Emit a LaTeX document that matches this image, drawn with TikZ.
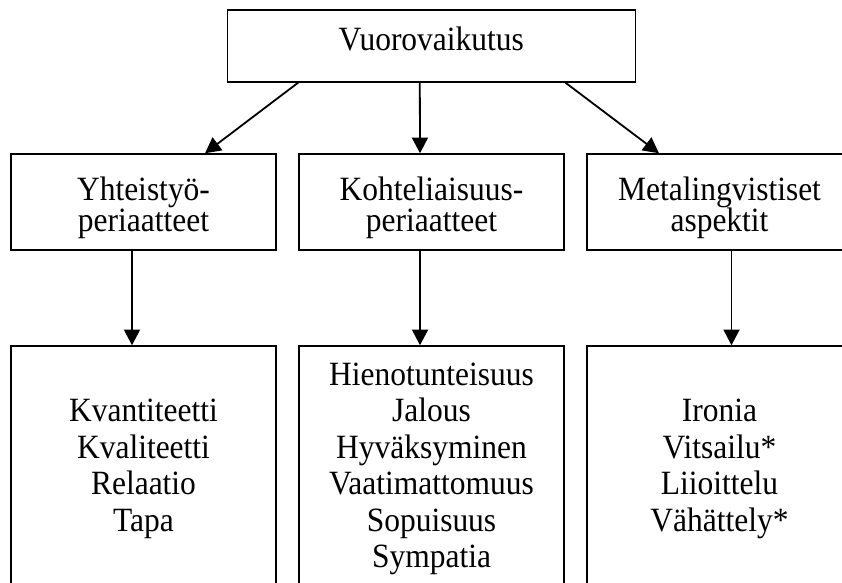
\documentclass[tikz,border=0pt]{standalone}
\usepackage{fontspec}
\setmainfont[FakeStretch=0.926]{Liberation Serif}
\usetikzlibrary{arrows.meta}

\begin{document}
\begin{tikzpicture}[x=1pt, y=-1pt,
    caja/.style={draw, line width=1.5pt, minimum width=265pt, align=center, inner sep=0pt,
      font=\fontsize{34}{31.7}\selectfont},
    lista/.style={caja, minimum height=246pt, font=\fontsize{34}{36.5}\selectfont},
    flecha/.style={line width=1.8pt, -{Triangle[length=15.7pt, width=16pt]}}]
  \path[use as bounding box, clip] (0,0) rectangle (842,582);
  % Caja superior
    \node[caja, minimum width=408pt, minimum height=72pt, text height=24pt, text depth=15.6pt]
      (vuoro) at (431.3,45.8) {Vuorovaikutus};
  % Periaatteet
    \tikzset{periaate/.style={caja, minimum height=96pt, text height=62pt, text depth=2.6pt}}
    \node[periaate] (yht) at (143.5,202) {Yhteistyö-\\periaatteet};
    \node[periaate] (koh) at (431.5,202) {Kohteliaisuus-\\periaatteet};
    \node[periaate] (meta) at (719.5,202) {Metalingvistiset\\aspektit};
  % Listas
    \node[lista] (yhtlista) at (143.5,469) {Kvantiteetti\\Kvaliteetti\\Relaatio\\Tapa};
    \node[lista] (kohlista) at (431.5,469) {Hienotunteisuus\\Jalous\\Hyväksyminen\\Vaatimattomuus\\Sopuisuus\\Sympatia};
    \node[lista] (metalista) at (719.5,469) {Ironia\\Vitsailu*\\Liioittelu\\Vähättely*};
  % Flechas
    \draw[flecha] ([xshift=-133pt]vuoro.south) -- ([xshift=61.5pt]yht.north);
    \draw[flecha] ([xshift=-11.5pt]vuoro.south) -- ([xshift=-11.5pt]koh.north);
    \draw[flecha] ([xshift=134pt]vuoro.south) -- ([xshift=-60.5pt]meta.north);
    \draw[flecha] ([xshift=-11.5pt]yht.south) -- ([xshift=-11.5pt]yhtlista.north);
    \draw[flecha] ([xshift=-11.5pt]koh.south) -- ([xshift=-11.5pt]kohlista.north);
    \draw[flecha] ([xshift=12pt]meta.south) -- ([xshift=12pt]metalista.north);
\end{tikzpicture}
\end{document}
